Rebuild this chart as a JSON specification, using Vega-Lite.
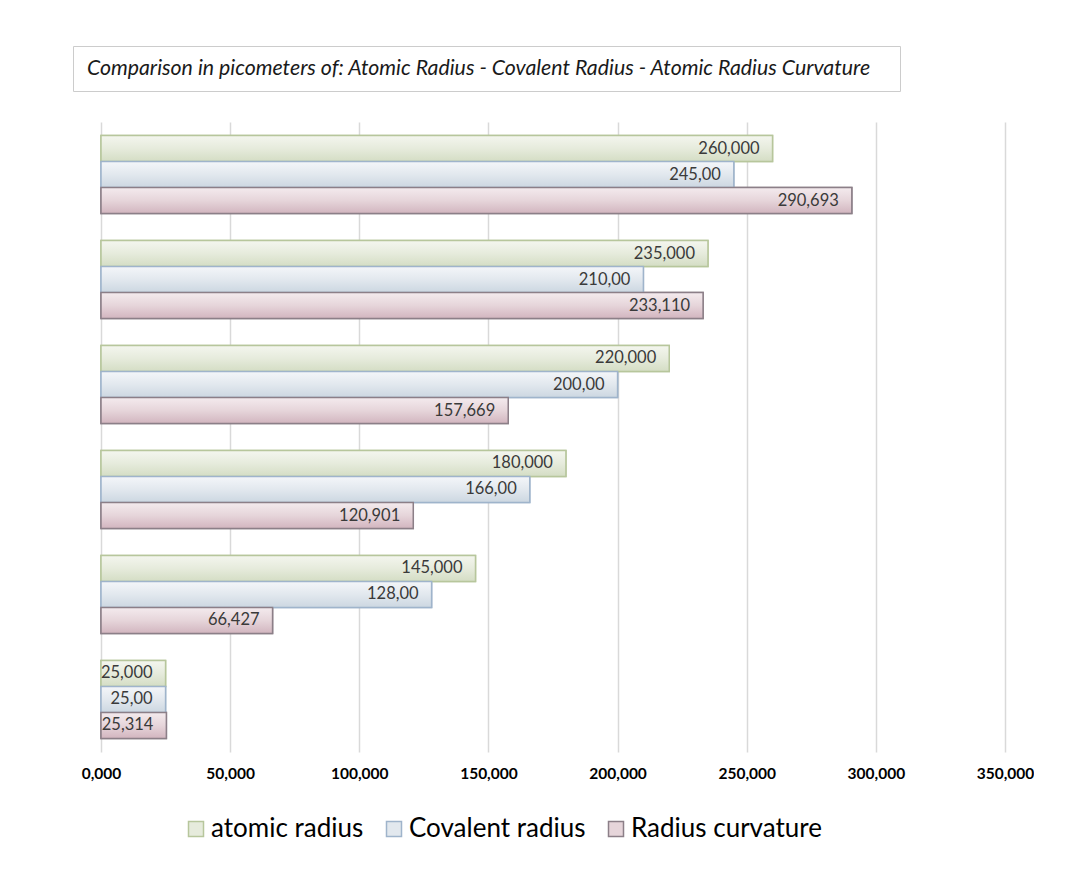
{
  "$schema": "https://vega.github.io/schema/vega-lite/v6.json",
  "padding": {"left": 72, "top": 45, "right": 0, "bottom": 0},
  "background": "white",
  "spacing": 30,
  "config": {
    "locale": {"number": {"decimal": ",", "thousands": ".", "grouping": [3], "currency": ["", ""]}},
    "font": "Lato",
    "view": {"stroke": null}
  },
  "datasets": {
    "radii": [
      {"element": "Cs", "series": "atomic radius", "value": 260},
      {"element": "Cs", "series": "Covalent radius", "value": 245},
      {"element": "Cs", "series": "Radius curvature", "value": 290.693},
      {"element": "Rb", "series": "atomic radius", "value": 235},
      {"element": "Rb", "series": "Covalent radius", "value": 210},
      {"element": "Rb", "series": "Radius curvature", "value": 233.11},
      {"element": "K", "series": "atomic radius", "value": 220},
      {"element": "K", "series": "Covalent radius", "value": 200},
      {"element": "K", "series": "Radius curvature", "value": 157.669},
      {"element": "Na", "series": "atomic radius", "value": 180},
      {"element": "Na", "series": "Covalent radius", "value": 166},
      {"element": "Na", "series": "Radius curvature", "value": 120.901},
      {"element": "Li", "series": "atomic radius", "value": 145},
      {"element": "Li", "series": "Covalent radius", "value": 128},
      {"element": "Li", "series": "Radius curvature", "value": 66.427},
      {"element": "H", "series": "atomic radius", "value": 25},
      {"element": "H", "series": "Covalent radius", "value": 25},
      {"element": "H", "series": "Radius curvature", "value": 25.314}
    ]
  },
  "vconcat": [
    {
      "width": 827,
      "height": 45,
      "view": {"stroke": "#cccccc", "strokeWidth": 1},
      "data": {"values": [{"heading": "Comparison in picometers of: Atomic Radius - Covalent Radius - Atomic Radius Curvature"}]},
      "mark": {"type": "text", "align": "center", "baseline": "middle", "dx": -8, "fontSize": 21.3, "fontStyle": "italic", "color": "#1a1a1a", "font": "Lato"},
      "encoding": {"text": {"field": "heading", "type": "nominal"}}
    },
    {
      "width": 932,
      "height": 630,
      "data": {"name": "radii"},
      "encoding": {
        "y": {
          "field": "element",
          "type": "nominal",
          "sort": ["Cs", "Rb", "K", "Na", "Li", "H"],
          "scale": {"paddingInner": 0.257, "paddingOuter": 0.1286},
          "axis": null
        },
        "yOffset": {
          "field": "series",
          "type": "nominal",
          "scale": {"domain": ["atomic radius", "Covalent radius", "Radius curvature"], "paddingInner": 0, "paddingOuter": 0}
        },
        "x": {
          "field": "value",
          "type": "quantitative",
          "scale": {"domain": [0, 350], "nice": false, "range": [28, 932]},
          "axis": {
            "values": [0, 50, 100, 150, 200, 250, 300, 350],
            "format": ".3f",
            "title": null,
            "domain": false,
            "ticks": false,
            "grid": true,
            "gridColor": "#d9d9d9",
            "gridWidth": 1.5,
            "labelFlush": false,
            "labelFont": "Lato",
            "labelFontSize": 15.5,
            "labelFontWeight": "bold",
            "labelColor": "#000000",
            "labelPadding": 14
          }
        }
      },
      "layer": [
        {
          "mark": {"type": "bar", "strokeWidth": 1.5},
          "encoding": {
            "fill": {
              "field": "series",
              "type": "nominal",
              "scale": {
                "domain": ["atomic radius", "Covalent radius", "Radius curvature"],
                "range": ["#e6ebdc", "#e2e8ee", "#e6d5da"]
              },
              "legend": {
                "title": null,
                "orient": "none",
                "legendX": 110,
                "legendY": 770,
                "direction": "horizontal",
                "padding": 0,
                "symbolType": "square",
                "symbolSize": 225,
                "symbolStrokeWidth": 1.5,
                "labelFont": "Lato",
                "labelFontSize": 26,
                "labelColor": "#000000",
                "labelOffset": 2,
                "labelLimit": 400,
                "columnPadding": 17
              }
            },
            "stroke": {
              "field": "series",
              "type": "nominal",
              "scale": {
                "domain": ["atomic radius", "Covalent radius", "Radius curvature"],
                "range": ["#b7c69c", "#9fb4cb", "#8c7f88"]
              },
              "legend": {
                "title": null,
                "orient": "none",
                "legendX": 110,
                "legendY": 770,
                "direction": "horizontal",
                "padding": 0,
                "symbolType": "square",
                "symbolSize": 225,
                "symbolStrokeWidth": 1.5,
                "labelFont": "Lato",
                "labelFontSize": 26,
                "labelColor": "#000000",
                "labelOffset": 2,
                "labelLimit": 400,
                "columnPadding": 17
              }
            }
          }
        },
        {
          "transform": [{"filter": "datum.series === 'atomic radius'"}],
          "mark": {
            "type": "bar",
            "strokeWidth": 1.5,
            "stroke": "#b7c69c",
            "fill": {"gradient": "linear", "x1": 0, "y1": 0, "x2": 0, "y2": 1, "stops": [{"offset": 0, "color": "#f4f6ef"}, {"offset": 0.5, "color": "#e6ebdc"}, {"offset": 1, "color": "#d4ddc4"}]}
          },
          "encoding": {}
        },
        {
          "transform": [{"filter": "datum.series === 'Covalent radius'"}],
          "mark": {
            "type": "bar",
            "strokeWidth": 1.5,
            "stroke": "#9fb4cb",
            "fill": {"gradient": "linear", "x1": 0, "y1": 0, "x2": 0, "y2": 1, "stops": [{"offset": 0, "color": "#f4f6f9"}, {"offset": 0.5, "color": "#e2e8ee"}, {"offset": 1, "color": "#ccd7e1"}]}
          },
          "encoding": {}
        },
        {
          "transform": [{"filter": "datum.series === 'Radius curvature'"}],
          "mark": {
            "type": "bar",
            "strokeWidth": 1.5,
            "stroke": "#8c7f88",
            "fill": {"gradient": "linear", "x1": 0, "y1": 0, "x2": 0, "y2": 1, "stops": [{"offset": 0, "color": "#f4ebee"}, {"offset": 0.5, "color": "#e6d5da"}, {"offset": 1, "color": "#d2b5bf"}]}
          },
          "encoding": {}
        },
        {
          "mark": {"type": "text", "align": "right", "baseline": "middle", "dx": -13, "fontSize": 16.5, "color": "#3a3a3a", "font": "Lato"},
          "encoding": {
            "text": {
              "condition": {"test": "datum.series === 'Covalent radius'", "field": "value", "type": "quantitative", "format": ".2f"},
              "field": "value",
              "type": "quantitative",
              "format": ".3f"
            }
          }
        }
      ]
    }
  ]
}
